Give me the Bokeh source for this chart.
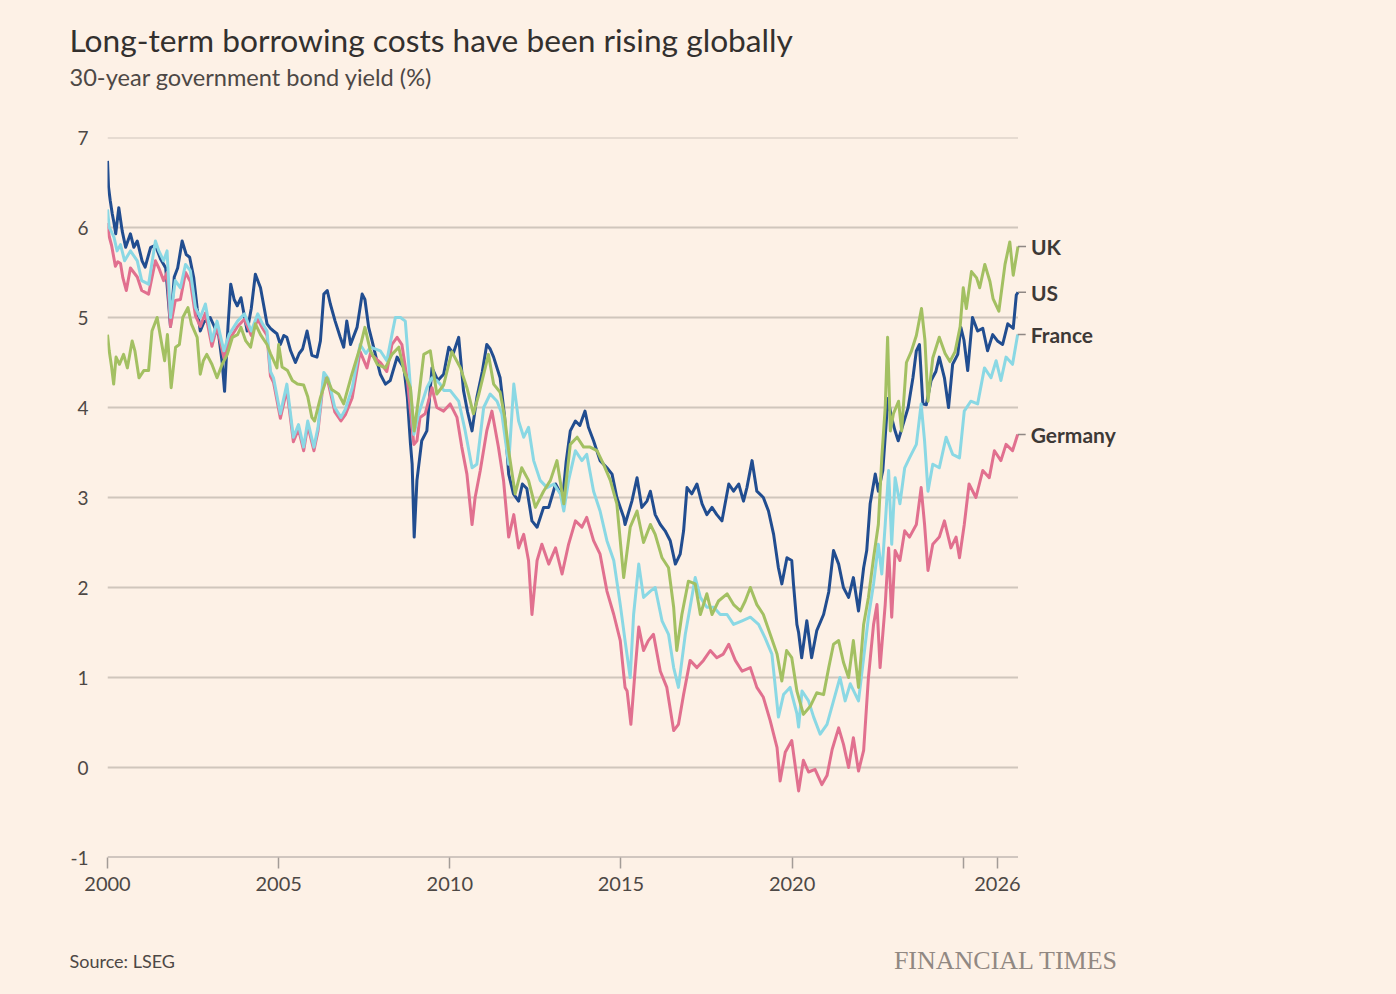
from bokeh.plotting import figure
from bokeh.layouts import column
from bokeh.models import Range1d, FixedTicker
from bokeh.embed import file_html
from bokeh.resources import INLINE
from bokeh.core.properties import value

# ---------------- data (years since 2000, yield %) ----------------
us_t = [0.00,0.03,0.08,0.14,0.19,0.24,0.33,0.43,0.53,0.67,0.77,0.87,1.01,1.10,1.26,1.40,1.55,1.70,1.84,1.95,
        2.05,2.18,2.30,2.40,2.52,2.62,2.71,2.82,3.00,3.12,3.25,3.35,3.42,3.52,3.60,3.70,3.79,3.90,4.08,4.20,
        4.32,4.40,4.47,4.58,4.66,4.76,4.85,4.95,5.05,5.15,5.24,5.35,5.49,5.60,5.70,5.83,5.97,6.12,6.22,6.32,
        6.42,6.51,6.65,6.80,6.90,6.99,7.10,7.29,7.44,7.52,7.63,7.73,7.85,7.97,8.12,8.26,8.46,8.66,8.76,8.85,
        8.90,8.96,9.04,9.18,9.33,9.48,9.65,9.82,9.97,10.10,10.26,10.40,10.52,10.65,10.79,10.95,11.08,11.18,11.28,11.47,
        11.60,11.72,11.86,12.01,12.12,12.25,12.40,12.55,12.74,12.89,13.09,13.30,13.40,13.52,13.67,13.80,13.95,14.05,14.20,14.39,
        14.59,14.74,14.88,15.08,15.12,15.32,15.47,15.61,15.76,15.86,16.00,16.15,16.29,16.44,16.59,16.73,16.83,16.93,17.07,17.22,
        17.37,17.51,17.66,17.80,17.95,18.15,18.29,18.44,18.58,18.68,18.83,18.97,19.16,19.31,19.46,19.60,19.70,19.85,19.99,20.04,
        20.14,20.19,20.28,20.43,20.57,20.72,20.92,21.07,21.21,21.36,21.50,21.65,21.79,21.94,22.09,22.18,22.28,22.43,22.52,22.65,
        22.80,22.90,23.00,23.10,23.24,23.39,23.53,23.63,23.72,23.82,23.92,24.06,24.20,24.30,24.45,24.57,24.69,24.84,24.93,25.02,
        25.13,25.27,25.42,25.57,25.71,25.86,26.00,26.15,26.30,26.46,26.55,26.60]
us_y = [6.74,6.45,6.30,6.15,6.05,5.93,6.22,5.96,5.78,5.93,5.78,5.85,5.63,5.56,5.78,5.80,5.65,5.55,4.90,5.45,
        5.55,5.85,5.70,5.67,5.44,5.10,4.85,4.95,5.00,4.90,4.80,4.50,4.18,4.90,5.37,5.20,5.13,5.22,4.85,5.10,
        5.48,5.40,5.33,5.10,4.93,4.88,4.85,4.82,4.70,4.80,4.78,4.63,4.50,4.60,4.65,4.85,4.58,4.56,4.74,5.26,
        5.30,5.15,4.96,4.78,4.67,4.96,4.70,4.89,5.26,5.20,4.89,4.74,4.55,4.37,4.26,4.30,4.56,4.44,4.11,3.60,
        3.37,2.56,3.19,3.63,3.74,4.44,4.30,4.37,4.67,4.60,4.78,4.19,3.95,3.74,4.11,4.40,4.70,4.65,4.56,4.33,
        3.90,3.26,3.04,2.96,3.15,3.10,2.74,2.67,2.89,2.89,3.15,3.00,3.40,3.74,3.85,3.80,3.96,3.78,3.63,3.41,
        3.33,3.26,3.00,2.78,2.70,2.96,3.22,2.89,2.96,3.07,2.81,2.70,2.63,2.52,2.26,2.37,2.63,3.11,3.04,3.15,
        2.93,2.81,2.89,2.81,2.74,3.15,3.07,3.15,2.96,3.11,3.41,3.07,3.00,2.85,2.59,2.22,2.04,2.33,2.30,2.04,
        1.59,1.50,1.22,1.63,1.22,1.52,1.70,1.95,2.41,2.26,2.00,1.89,2.11,1.74,2.22,2.41,2.93,3.26,3.07,3.30,
        4.10,3.90,3.75,3.63,3.81,4.00,4.33,4.63,4.70,4.04,4.03,4.30,4.40,4.56,4.33,4.00,4.48,4.59,4.89,4.75,
        4.41,5.00,4.85,4.88,4.63,4.81,4.74,4.70,4.93,4.88,5.25,5.28]

uk_t = [0.00,0.05,0.12,0.18,0.25,0.35,0.47,0.58,0.72,0.80,0.92,1.06,1.20,1.30,1.45,1.55,1.67,1.75,1.86,1.99,
        2.10,2.20,2.35,2.45,2.62,2.71,2.80,2.90,3.05,3.20,3.35,3.50,3.65,3.80,3.90,4.04,4.18,4.32,4.47,4.66,
        4.76,4.95,5.00,5.10,5.26,5.40,5.55,5.73,5.85,5.97,6.05,6.22,6.41,6.55,6.75,6.90,7.14,7.38,7.52,7.68,
        7.88,8.12,8.31,8.51,8.66,8.85,8.96,9.09,9.24,9.43,9.62,9.82,10.06,10.31,10.50,10.69,10.85,10.99,11.13,11.28,
        11.47,11.60,11.72,11.91,12.10,12.30,12.50,12.74,12.94,13.13,13.33,13.52,13.72,13.91,14.10,14.30,14.49,14.69,14.88,15.08,
        15.27,15.47,15.66,15.86,16.00,16.20,16.39,16.54,16.63,16.78,16.97,17.17,17.32,17.51,17.66,17.85,18.10,18.29,18.49,18.63,
        18.78,18.97,19.16,19.36,19.56,19.70,19.84,19.99,20.14,20.33,20.53,20.72,20.92,21.07,21.21,21.36,21.50,21.65,21.79,21.94,
        22.09,22.23,22.38,22.52,22.62,22.72,22.79,22.87,22.96,23.11,23.20,23.34,23.48,23.63,23.78,23.88,23.97,24.11,24.30,24.47,
        24.61,24.76,24.91,25.00,25.09,25.24,25.39,25.48,25.63,25.78,25.87,26.04,26.22,26.36,26.46,26.60]
uk_y = [4.81,4.63,4.45,4.26,4.56,4.48,4.59,4.44,4.74,4.63,4.33,4.41,4.41,4.85,5.00,4.78,4.52,4.81,4.22,4.67,
        4.70,5.00,5.11,4.93,4.78,4.37,4.52,4.59,4.48,4.33,4.48,4.59,4.78,4.81,4.89,4.74,4.67,4.93,4.81,4.70,
        4.60,4.44,4.70,4.45,4.41,4.30,4.26,4.25,4.12,3.89,3.85,4.11,4.33,4.20,4.15,4.04,4.37,4.67,4.89,4.63,
        4.48,4.44,4.59,4.67,4.41,4.22,3.74,4.11,4.59,4.63,4.15,4.25,4.62,4.44,4.22,3.93,4.15,4.37,4.59,4.26,
        4.17,3.90,3.52,3.04,3.33,3.19,2.89,3.07,3.19,3.41,2.93,3.59,3.67,3.56,3.56,3.52,3.37,3.19,2.93,2.11,
        2.67,2.85,2.50,2.70,2.59,2.33,2.22,1.78,1.30,1.70,2.07,2.04,1.70,1.93,1.70,1.85,1.93,1.81,1.74,1.85,
        2.00,1.81,1.70,1.48,1.26,0.96,1.30,1.22,0.85,0.59,0.68,0.83,0.81,1.11,1.37,1.41,1.17,1.00,1.41,0.89,
        1.59,1.89,2.33,2.70,3.44,4.00,4.78,3.74,3.93,4.07,3.74,4.50,4.62,4.80,5.10,4.75,4.07,4.55,4.78,4.60,
        4.51,4.62,4.90,5.33,5.10,5.51,5.44,5.33,5.59,5.40,5.21,5.07,5.59,5.84,5.47,5.79]

fr_t = [0.00,0.05,0.12,0.19,0.28,0.38,0.50,0.67,0.87,1.00,1.20,1.40,1.50,1.64,1.74,1.84,1.98,2.13,2.28,2.42,
        2.57,2.71,2.86,3.05,3.20,3.40,3.55,3.80,4.00,4.20,4.39,4.53,4.66,4.76,4.85,5.05,5.24,5.43,5.58,5.73,
        5.85,6.03,6.15,6.32,6.45,6.64,6.82,6.95,7.15,7.38,7.55,7.68,7.97,8.16,8.31,8.41,8.56,8.70,8.80,8.95,
        9.09,9.33,9.48,9.62,9.72,9.82,10.01,10.26,10.45,10.65,10.79,10.99,11.18,11.38,11.52,11.72,11.87,12.01,12.16,12.30,
        12.45,12.64,12.84,13.04,13.23,13.33,13.47,13.67,13.86,14.00,14.20,14.39,14.59,14.79,14.98,15.12,15.27,15.37,15.52,15.66,
        15.86,16.00,16.20,16.39,16.54,16.68,16.88,17.02,17.17,17.32,17.51,17.71,17.90,18.10,18.29,18.54,18.78,19.02,19.21,19.41,
        19.60,19.75,19.94,20.14,20.19,20.29,20.48,20.63,20.82,21.02,21.21,21.40,21.55,21.70,21.94,22.09,22.23,22.38,22.52,22.62,
        22.72,22.82,22.91,23.01,23.15,23.29,23.43,23.63,23.77,23.87,23.97,24.11,24.30,24.50,24.69,24.89,25.03,25.22,25.42,25.62,
        25.81,25.96,26.10,26.25,26.44,26.59]
fr_y = [6.20,6.00,5.95,5.89,5.74,5.81,5.63,5.74,5.63,5.41,5.37,5.85,5.74,5.63,5.74,5.00,5.41,5.33,5.59,5.52,
        5.11,5.00,5.15,4.74,4.96,4.63,4.81,4.96,5.04,4.85,5.04,4.93,4.85,4.40,4.33,3.93,4.26,3.67,3.81,3.56,
        3.85,3.56,3.78,4.39,4.32,4.00,3.89,3.98,4.22,4.70,4.60,4.67,4.63,4.52,4.81,5.00,5.00,4.96,4.48,3.70,
        3.93,4.22,4.33,4.30,4.26,4.19,4.19,4.07,3.74,3.33,3.37,4.00,4.15,4.07,3.93,3.37,4.26,3.85,3.67,3.78,
        3.41,3.19,3.11,3.15,3.04,2.85,3.19,3.52,3.41,3.48,3.07,2.85,2.52,2.30,1.81,1.41,1.00,1.70,2.26,1.89,
        1.96,2.00,1.63,1.48,1.11,0.89,1.48,1.78,2.11,1.89,1.78,1.78,1.70,1.70,1.59,1.63,1.67,1.59,1.44,1.26,
        0.56,0.81,0.89,0.60,0.45,0.85,0.74,0.56,0.37,0.48,0.74,1.00,0.74,0.93,0.74,1.22,1.67,2.04,2.48,2.15,
        2.70,3.30,2.48,3.22,2.93,3.33,3.44,3.59,4.04,3.63,3.07,3.37,3.33,3.67,3.48,3.44,3.96,4.07,4.04,4.44,
        4.33,4.52,4.30,4.56,4.48,4.81]

de_t = [0.00,0.05,0.12,0.23,0.30,0.38,0.45,0.55,0.67,0.87,1.00,1.20,1.40,1.50,1.64,1.74,1.84,1.98,2.13,2.28,
        2.42,2.57,2.71,2.86,3.05,3.20,3.40,3.55,3.80,4.00,4.20,4.39,4.53,4.66,4.76,4.85,5.05,5.24,5.43,5.58,
        5.73,5.85,6.03,6.15,6.32,6.45,6.64,6.82,6.95,7.15,7.38,7.58,7.68,7.97,8.16,8.31,8.46,8.60,8.76,8.95,
        9.04,9.13,9.28,9.48,9.62,9.82,10.01,10.21,10.35,10.50,10.65,10.74,10.89,11.08,11.23,11.42,11.57,11.72,11.87,12.01,
        12.16,12.30,12.40,12.55,12.69,12.89,13.09,13.28,13.47,13.67,13.86,14.00,14.20,14.39,14.59,14.79,14.98,15.12,15.18,15.29,
        15.42,15.52,15.66,15.80,15.95,16.15,16.34,16.54,16.68,16.83,17.02,17.22,17.41,17.61,17.80,17.99,18.15,18.34,18.54,18.78,
        18.97,19.16,19.36,19.56,19.65,19.80,19.99,20.19,20.33,20.48,20.67,20.87,21.02,21.17,21.36,21.50,21.65,21.79,21.94,22.09,
        22.23,22.38,22.48,22.57,22.72,22.82,22.91,23.01,23.15,23.29,23.43,23.63,23.77,23.87,23.97,24.11,24.30,24.45,24.64,24.79,
        24.89,25.03,25.17,25.37,25.57,25.76,25.91,26.10,26.25,26.44,26.59]
de_y = [6.05,5.90,5.80,5.57,5.62,5.60,5.44,5.30,5.55,5.45,5.30,5.26,5.63,5.55,5.41,5.50,4.90,5.19,5.20,5.50,
        5.40,5.02,4.90,5.05,4.68,4.90,4.55,4.75,4.90,4.98,4.80,4.98,4.88,4.80,4.35,4.28,3.88,4.20,3.62,3.76,
        3.52,3.80,3.52,3.74,4.34,4.27,3.95,3.85,3.92,4.11,4.62,4.44,4.60,4.50,4.40,4.70,4.78,4.70,4.30,3.59,
        3.63,3.89,3.93,4.22,4.00,3.96,4.04,3.89,3.56,3.26,2.70,3.00,3.30,3.74,3.96,3.56,3.19,2.56,2.81,2.44,
        2.59,2.30,1.70,2.30,2.48,2.26,2.44,2.15,2.48,2.74,2.67,2.78,2.52,2.37,1.96,1.70,1.41,0.89,0.85,0.48,
        1.11,1.56,1.30,1.41,1.48,1.07,0.89,0.41,0.48,0.81,1.19,1.11,1.19,1.30,1.22,1.26,1.37,1.19,1.07,1.11,
        0.89,0.78,0.52,0.22,-0.15,0.17,0.30,-0.26,0.08,-0.05,-0.02,-0.19,-0.09,0.20,0.44,0.26,0.00,0.33,-0.04,0.19,
        1.00,1.59,1.81,1.11,1.81,2.44,1.67,2.41,2.30,2.63,2.56,2.70,3.11,2.70,2.19,2.48,2.56,2.74,2.44,2.56,
        2.33,2.70,3.15,3.00,3.30,3.22,3.52,3.41,3.59,3.52,3.70]

series_names = ["US", "Germany", "France", "UK"]          # drawing order
series_colors = ["#214d90", "#e1708f", "#8ad8e4", "#a3c062"]
series_t = [us_t, de_t, fr_t, uk_t]
series_y = [us_y, de_y, fr_y, uk_y]

y_ticks = [-1, 0, 1, 2, 3, 4, 5, 6, 7]
y_tick_labels = {-1: "-1"}
x_ticks = [2000, 2005, 2010, 2015, 2020, 2025, 2026]
x_tick_labels = {2025: ""}

title_text = "Long-term borrowing costs have been rising globally"
subtitle_text = "30-year government bond yield (%)"
source_text = "Source: LSEG"
brand_text = "FINANCIAL TIMES"

# ---------------- layout ----------------
BG = "#fdf1e6"
W = 1396
HEAD_H, MAIN_H, FOOT_H = 115, 795, 80
FL, FR = 107, 1140                   # frame left/right (page px)
FT_LOCAL, FRAME_H = 22, 720          # frame top inside main figure
PX_PER_YEAR = 34.23
x0 = 2000
x1 = x0 + (FR - FL) / PX_PER_YEAR
TXT = "#33302e"
SUB = "#4d4845"

def text_fig(h):
    f = figure(width=W, height=h, output_backend="svg", toolbar_location=None,
               x_range=Range1d(0, W), y_range=Range1d(h, 0),
               x_axis_type=None, y_axis_type=None, min_border=0, title=None,
               frame_align=False)
    f.background_fill_color = BG
    f.border_fill_color = BG
    f.outline_line_color = None
    f.xgrid.grid_line_color = None
    f.ygrid.grid_line_color = None
    return f

head = text_fig(HEAD_H)
head.text(x=[69], y=[39], text=[title_text], text_font=value("Lato"), text_font_size="31.7px",
          text_color=TXT, text_baseline="alphabetic", text_align="left")
head.text(x=[69], y=[76], text=[subtitle_text], text_font=value("Lato"), text_font_size="23.6px",
          text_color=SUB, text_baseline="alphabetic", text_align="left")

foot = text_fig(FOOT_H)
foot.text(x=[69], y=[50], text=[source_text], text_font=value("Lato"), text_font_size="18px",
          text_color=SUB, text_baseline="alphabetic", text_align="left")
foot.text(x=[1118], y=[50], text=[brand_text], text_font=value("Liberation Serif"), text_font_size="26px",
          text_color="#918882", text_baseline="alphabetic", text_align="right")

p = figure(width=W, height=MAIN_H, output_backend="svg", toolbar_location=None,
           x_range=Range1d(x0, x1), y_range=Range1d(-1, 7), title=None,
           min_border_left=FL, min_border_right=W - FR,
           min_border_top=FT_LOCAL, min_border_bottom=MAIN_H - FT_LOCAL - FRAME_H,
           frame_align=False)
p.background_fill_color = BG
p.border_fill_color = BG
p.outline_line_color = None
p.xgrid.grid_line_color = None
p.ygrid.grid_line_color = None

x_last = x0 + max(t[-1] for t in series_t)

# gridlines across the data span
grid_y = [v for v in y_ticks if v != -1]
p.segment(x0=[x0] * len(grid_y), x1=[x_last] * len(grid_y), y0=grid_y, y1=grid_y,
          line_color="#d0c6bc", line_width=1.8)
p.segment(x0=[x0], x1=[x_last], y0=[y_ticks[0]], y1=[y_ticks[0]], line_color="#a39c97", line_width=2)

# axes
xa = p.xaxis[0]
xa.ticker = FixedTicker(ticks=x_ticks)
xa.major_label_overrides = x_tick_labels
xa.axis_line_color = None
xa.major_tick_line_color = "#a39c97"
xa.major_tick_line_width = 1.5
xa.major_tick_out = 11
xa.major_tick_in = 0
xa.minor_tick_line_color = None
xa.major_label_standoff = 8
xa.major_label_text_font = "Lato"
xa.major_label_text_font_size = "20px"
xa.major_label_text_color = SUB

ya = p.yaxis[0]
ya.ticker = FixedTicker(ticks=y_ticks)
ya.major_label_overrides = y_tick_labels
ya.axis_line_color = None
ya.major_tick_line_color = None
ya.major_tick_out = 0
ya.major_tick_in = 0
ya.minor_tick_line_color = None
ya.minor_tick_out = 0
ya.major_label_standoff = 19
ya.major_label_text_font = "Lato"
ya.major_label_text_font_size = "19px"
ya.major_label_text_color = SUB

# series lines
for name, col, ts, ys in zip(series_names, series_colors, series_t, series_y):
    p.line([x0 + t for t in ts], ys, line_color=col, line_width=3.0, line_join="round")

# end labels with small connectors
lab_x = [x0 + t[-1] for t in series_t]
lab_y = [y[-1] for y in series_y]
p.segment(x0=lab_x, x1=[v + 8 / PX_PER_YEAR for v in lab_x], y0=lab_y, y1=lab_y,
          line_color="#8f8884", line_width=1.5)
p.text(x=[v + 13 / PX_PER_YEAR for v in lab_x], y=lab_y, text=series_names,
       text_font=value("Lato"), text_font_size="21px", text_font_style="bold",
       text_color="#3d3936", text_baseline="middle", text_align="left")

layout = column(head, p, foot, spacing=0)

html = file_html(layout, INLINE)
html = html.replace("<body>", '<body style="background-color:%s;">' % BG)
open("out.html", "w").write(html)
